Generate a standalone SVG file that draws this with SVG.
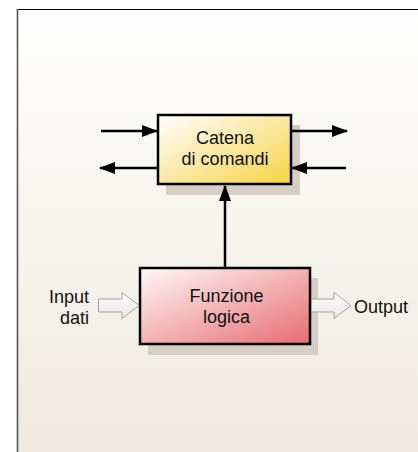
<svg xmlns="http://www.w3.org/2000/svg" width="418" height="452" viewBox="0 0 418 452">
  <defs>
    <linearGradient id="bg" x1="0" y1="0" x2="0" y2="1">
      <stop offset="0" stop-color="#ffffff"/>
      <stop offset="1" stop-color="#eeeadf"/>
    </linearGradient>
    <linearGradient id="yellowFill" x1="0" y1="0" x2="1" y2="1">
      <stop offset="0" stop-color="#ffffff"/>
      <stop offset="0.5" stop-color="#fbe8a2"/>
      <stop offset="1" stop-color="#f5d447"/>
    </linearGradient>
    <linearGradient id="redFill" x1="0" y1="0" x2="1" y2="1">
      <stop offset="0" stop-color="#fff8f8"/>
      <stop offset="0.5" stop-color="#f3b3b4"/>
      <stop offset="1" stop-color="#e76b76"/>
    </linearGradient>
    <linearGradient id="hollowFill" x1="0" y1="0" x2="0" y2="1">
      <stop offset="0" stop-color="#ffffff"/>
      <stop offset="1" stop-color="#e6e6e4"/>
    </linearGradient>
    <linearGradient id="hatchFade" x1="0" y1="0" x2="1" y2="1">
      <stop offset="0" stop-color="#fff" stop-opacity="0.9"/>
      <stop offset="0.5" stop-color="#fff" stop-opacity="0"/>
    </linearGradient>
    <pattern id="hatch" width="4" height="4" patternUnits="userSpaceOnUse" patternTransform="rotate(-45)">
      <rect width="4" height="1.2" fill="#ffffff" fill-opacity="0.45"/>
    </pattern>
    <mask id="hatchMask">
      <rect x="0" y="0" width="418" height="452" fill="url(#hatchFade)"/>
    </mask>
    <marker id="arrow" viewBox="0 0 16 12" refX="15" refY="6" markerWidth="16" markerHeight="12" markerUnits="userSpaceOnUse" orient="auto">
      <path d="M0,0 L16,6 L0,12 Z" fill="#000"/>
    </marker>
  </defs>
  <style>
    .label { font-family: "Liberation Sans", Arial, sans-serif; font-size: 18px; fill: #111; }
    .box { stroke: #000; stroke-width: 2.5; }
    .shadow { fill: #d6cec5; }
    .wire { stroke: #000; stroke-width: 2.5; fill: none; marker-end: url(#arrow); }
    .hollow { fill: url(#hollowFill); stroke: #a3a3a3; stroke-width: 1; }
  </style>

  <!-- page background and frame -->
  <rect x="0" y="0" width="418" height="452" fill="#ffffff"/>
  <rect x="17" y="9" width="401" height="443" fill="url(#bg)"/>
  <line x1="17" y1="9.5" x2="418" y2="9.5" stroke="#000" stroke-width="1.2"/>
  <line x1="17.5" y1="9" x2="17.5" y2="452" stroke="#555" stroke-width="1.6"/>

  <!-- Catena di comandi -->
  <g id="catena">
    <rect class="shadow" x="166" y="125" width="134" height="70"/>
    <rect class="box" x="158" y="115" width="133" height="69" fill="url(#yellowFill)"/>
    <rect x="159.5" y="116.5" width="130" height="66" fill="url(#hatch)" mask="url(#hatchMask)"/>
    <text class="label" x="225" y="143.5" text-anchor="middle">Catena</text>
    <text class="label" x="225" y="164.5" text-anchor="middle">di comandi</text>
  </g>

  <!-- Funzione logica -->
  <g id="funzione">
    <rect class="shadow" x="148" y="278" width="170" height="77"/>
    <rect class="box" x="140" y="268" width="170" height="76" fill="url(#redFill)"/>
    <rect x="141.5" y="269.5" width="167" height="73" fill="url(#hatch)" mask="url(#hatchMask)"/>
    <text class="label" x="226.5" y="302" text-anchor="middle">Funzione</text>
    <text class="label" x="226.5" y="322.5" text-anchor="middle">logica</text>
  </g>

  <!-- connectors, drawn over the box shadows -->
  <g id="connectors">
    <line class="wire" x1="101" y1="131" x2="157" y2="131"/>
    <line class="wire" x1="292" y1="131" x2="347" y2="131"/>
    <line class="wire" x1="157" y1="168" x2="100" y2="168"/>
    <line class="wire" x1="346" y1="168" x2="292" y2="168"/>
    <line class="wire" x1="225" y1="267" x2="225" y2="186"/>
    <path id="input-arrow" class="hollow" d="M98.5,299 L122,299 L122,292.5 L139,305.5 L122,318.5 L122,312 L98.5,312 Z"/>
    <path id="output-arrow" class="hollow" d="M311.5,299 L334,299 L334,292.5 L351,305.5 L334,318.5 L334,312 L311.5,312 Z"/>
  </g>

  <!-- external labels -->
  <g id="input-label">
    <text class="label" x="89" y="302.5" text-anchor="end">Input</text>
    <text class="label" x="89" y="323.5" text-anchor="end">dati</text>
  </g>
  <g id="output-label">
    <text class="label" x="354" y="312.5">Output</text>
  </g>
</svg>
